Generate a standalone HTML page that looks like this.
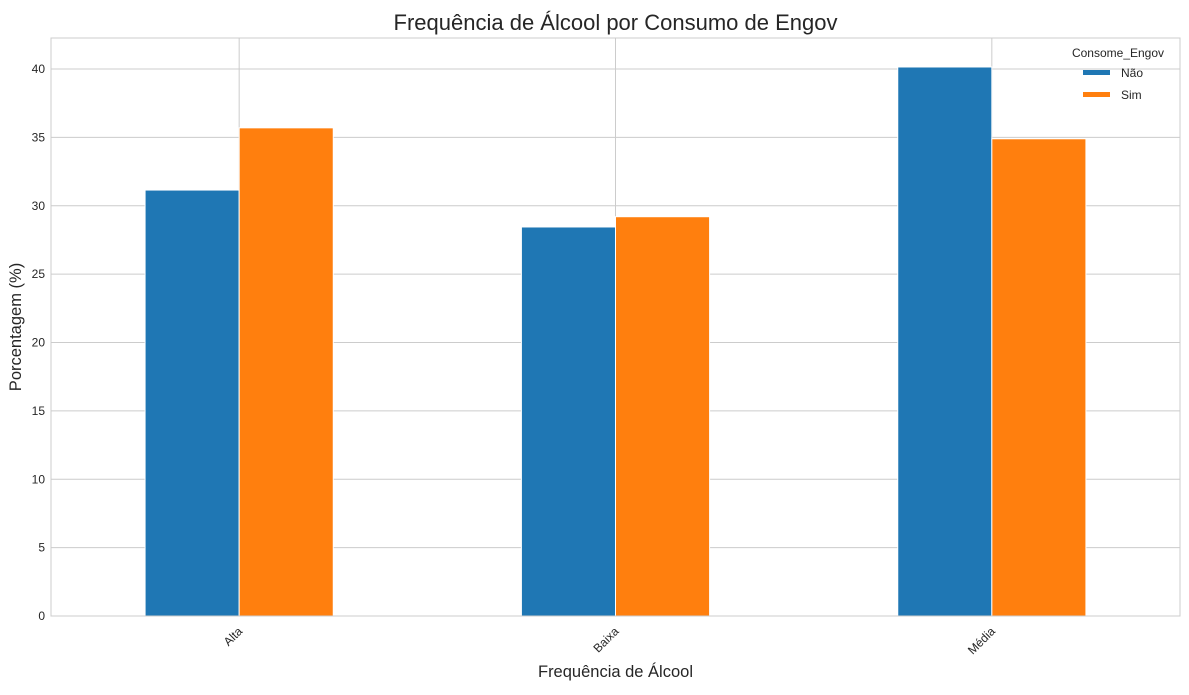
<!DOCTYPE html>
<html><head><meta charset="utf-8"><style>
body{margin:0;background:#fff;}
svg{font-family:"Liberation Sans",sans-serif;}
</style></head><body>
<svg id="c" width="1189" height="690" xmlns="http://www.w3.org/2000/svg"></svg>
<script>
const categories=["Alta","Baixa","Média"];
const seriesNames=["Não","Sim"];
const naoValues=[31.15,28.45,40.15];
const simValues=[35.7,29.2,34.9];
const yTicks=[0,5,10,15,20,25,30,35,40];
const colors=["#1f77b4","#ff7f0e"];
const svg=document.getElementById('c');
const NS="http://www.w3.org/2000/svg";
const L=51,R=1180,T=38,B=616,yMax=42.27;
const xS=v=>L+(v+0.5)*(R-L)/3;
const yS=v=>B-v*(B-T)/yMax;
function el(t,a,txt){const e=document.createElementNS(NS,t);for(const k in a)e.setAttribute(k,a[k]);if(txt!==undefined)e.textContent=txt;svg.appendChild(e);return e;}
yTicks.forEach(v=>{
 const g=el('line',{x1:L,x2:R,y1:yS(v),y2:yS(v),stroke:'#cccccc','stroke-width':1});
 
 
 const t=el('text',{x:L-6,y:yS(v)+4,'text-anchor':'end','font-size':12,fill:'#262626'},v);
 
 
});
categories.forEach((c,i)=>{
 const g=el('line',{x1:xS(i),x2:xS(i),y1:T,y2:B,stroke:'#cccccc','stroke-width':1});
 
 
 const x=xS(i)+4,y=B+16;
 const t=el('text',{x:x,y:y,'text-anchor':'end','font-size':12,fill:'#262626',transform:`rotate(-45 ${x} ${y})`},c);
 
 
});
const bw=0.25*(R-L)/3;
[naoValues,simValues].forEach((vals,s)=>{
 vals.forEach((v,i)=>{
  const x=xS(i)+(s===0?-bw:0);
  const r=el('rect',{x:x,y:yS(v),width:bw,height:B-yS(v),fill:colors[s],stroke:'#fff','stroke-width':1});
  
  
 });
});
const fr=el('rect',{x:L,y:T,width:R-L,height:B-T,fill:'none',stroke:'#cccccc','stroke-width':1});


const ti=el('text',{x:(L+R)/2,y:30,'text-anchor':'middle','font-size':22,fill:'#262626'},'Frequência de Álcool por Consumo de Engov');


const xt=el('text',{x:(L+R)/2,y:677,'text-anchor':'middle','font-size':16.5,fill:'#262626'},'Frequência de Álcool');


const yt=el('text',{x:21,y:(T+B)/2,'text-anchor':'middle','font-size':16.5,fill:'#262626',transform:`rotate(-90 21 ${(T+B)/2})`},'Porcentagem (%)');


const lt=el('text',{x:1118,y:57,'text-anchor':'middle','font-size':12,fill:'#262626'},'Consome_Engov');


seriesNames.forEach((n,s)=>{
 const y=70+s*22;
 const p=el('rect',{x:1083,y:y,width:27,height:5,fill:colors[s]});
 
 
 const t=el('text',{x:1121,y:y+7,'font-size':12,fill:'#262626'},n);
 
 
});
</script>
</body></html>
